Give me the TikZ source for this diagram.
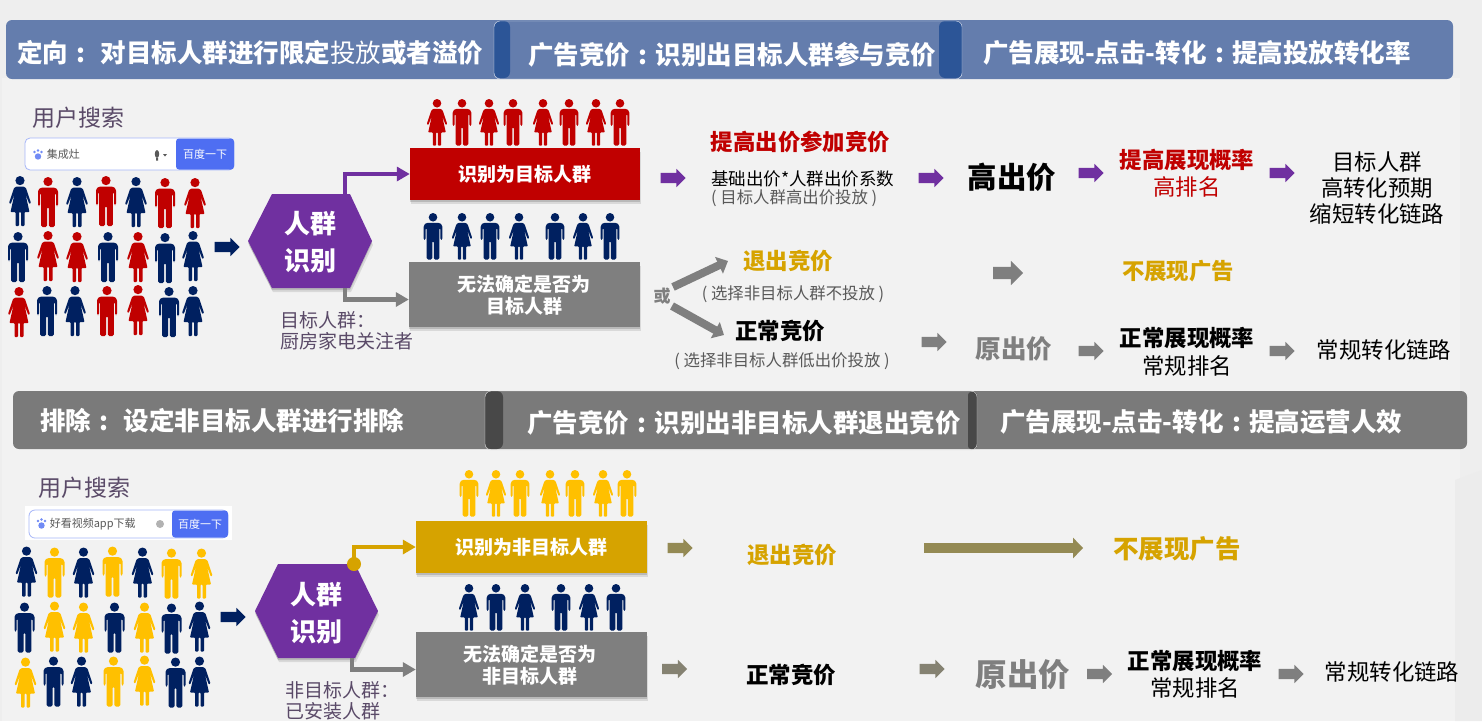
\documentclass[tikz,border=0pt]{standalone}
\usepackage{fontspec}
\setmainfont{Noto Sans CJK SC}
\usetikzlibrary{arrows.meta,positioning,shapes.arrows,shadows}
\definecolor{bandblue}{HTML}{647DAD}
\definecolor{tabblue}{HTML}{2C5597}
\definecolor{bandgray}{HTML}{7A7A7A}
\definecolor{tabgray}{HTML}{484848}
\definecolor{crowdnavy}{HTML}{002060}
\definecolor{crowdred}{HTML}{C00000}
\definecolor{crowdyel}{HTML}{FFC000}
\definecolor{boxyel}{HTML}{D6A300}
\definecolor{boxgray}{HTML}{7F7F7F}
\definecolor{hexpurple}{HTML}{7030A0}
\definecolor{olive}{HTML}{948A54}
\definecolor{plumtext}{HTML}{5A4A68}
\definecolor{softtext}{HTML}{595959}
\definecolor{baidu}{HTML}{4E6EF2}
\newcommand\headcolon{\makebox[1em]{:}}
\begin{document}
\begin{tikzpicture}[x=1pt,y=-1pt,
    bold/.style={font=\fontsize{#1}{#1}\selectfont\bfseries,inner sep=0pt},
    plain/.style={font=\fontsize{#1}{#1}\selectfont,inner sep=0pt},
    headtext/.style={bold=25.5,text=white,anchor=west},
    boxtext/.style={bold=19,text=white,align=center},
    softshadow/.style={
        drop shadow={shadow xshift=0pt,shadow yshift=-2pt,opacity=.14,fill=black},
        drop shadow={shadow xshift=1pt,shadow yshift=-4pt,opacity=.1,fill=black}},
    resultbox/.style={rectangle,minimum width=#1,softshadow,inner sep=0pt},
    blockarrow/.style={single arrow,fill=#1,minimum height=25pt,inner sep=5pt,xshift=-2pt,
        single arrow head extend=4pt,single arrow head indent=0pt},
    elbow/.style={line width=4.5pt,draw=#1,-{Triangle[width=14pt,length=13pt]}},
    branch/.style={line width=8pt,draw=boxgray,-{Triangle[width=18pt,length=10pt]}},
    man/.pic={
        \fill[pic actions] (0,4.6) circle (4.6);
        \fill[pic actions,rounded corners=1.5pt] (-10,29) -- (-10,13) -- (-7,10.5) -- (7,10.5)
            -- (10,13) -- (10,29) -- (8,29) -- (8,16) -- (6.8,16) -- (6.8,50) -- (0.8,50)
            -- (0.8,30) -- (-0.8,30) -- (-0.8,50) -- (-6.8,50) -- (-6.8,16) -- (-8,16)
            -- (-8,29) -- cycle;
    },
    woman/.pic={
        \fill[pic actions] (0,4.6) circle (4.6);
        \fill[pic actions,rounded corners=.8pt] (-3.5,10.5) -- (3.5,10.5) -- (6,12) -- (11,27)
            -- (9.3,28) -- (5.5,18) -- (9.5,36) -- (4.5,36) -- (4.5,50) -- (1,50) -- (1,36)
            -- (-1,36) -- (-1,50) -- (-4.5,50) -- (-4.5,36) -- (-9.5,36) -- (-5.5,18)
            -- (-9.3,28) -- (-11,27) -- (-6,12) -- cycle;
    }]
    \useasboundingbox (0,0) rectangle (1482,721);
    % backdrop
    \fill[black!6.5] (0,0) rectangle (1482,721);
    \fill[black!5] (2,78) rectangle (1460,721);
    \fill[black!7.5] (1455,480) -- (1482,470) -- (1482,721) -- (1455,721) -- cycle;

    % upper band
    \fill[bandblue,rounded corners=6pt] (6,20) rectangle (1453,79);
    \fill[tabblue,rounded corners=6pt] (494,21) rectangle (510,78);
    \fill[tabblue,rounded corners=6pt] (939,21) rectangle (962,78);
    \draw[white!80!bandblue,rounded corners=6pt] (494,21) rectangle (962,79);
    \node (targetHead) [headtext] at (17,53) {定向\headcolon\hspace{7pt}对目标人群进行限定{\mdseries 投放}或者溢价};
    \node (bidHead) [headtext] at (528,55) {广告竞价\headcolon 识别出目标人群参与竞价};
    \node (showHead) [headtext] at (983,53) {广告展现-点击-转化\headcolon 提高投放转化率};

    % lower band
    \fill[bandgray,rounded corners=6pt] (13,391) rectangle (1467,449);
    \fill[tabgray,rounded corners=6pt] (485,391) rectangle (503,449);
    \fill[tabgray,rounded corners=3pt] (968,392) rectangle (977,449);
    \draw[white!75!bandgray,rounded corners=6pt] (485,391) rectangle (977,450);
    \node (excludeHead) [headtext] at (40,421) {排除\headcolon\hspace{7pt}设定非目标人群进行排除};
    \node (quitHead) [headtext] at (527,423) {广告竞价\headcolon 识别出非目标人群退出竞价};
    \node (staffHead) [headtext] at (1000,422) {广告展现-点击-转化\headcolon 提高运营人效};

    % the two crowds
    \foreach \dx/\dy/\other in {0/0/crowdred,6.5/370.5/crowdyel}{
        \foreach \px/\py/\who in {20/176/woman,77/177/woman,136/177/woman,18/232/man,108/232/man,
            165/233/man,193/231/woman,47/286/man,75/286/woman,169/287/man,193/286/woman}
            \path (\px+\dx,\py+\dy) pic[fill=crowdnavy] {\who};
        \foreach \px/\py/\who in {48/177/man,106/176/man,165/178/man,195/178/woman,48/231/woman,
            77/232/woman,138/232/woman,19/287/woman,107/286/man,138/285/woman}
            \path (\px+\dx,\py+\dy) pic[fill=\other] {\who};
    }
    % small groups over the boxes
    \foreach \px/\who in {437/woman,462/man,489/woman,513/man,543/woman,569/man,596/woman,620/man}
        \path (\px,99) pic[fill=crowdred,scale=.93] {\who};
    \foreach \px/\who in {433/man,462/woman,490/man,519/woman,555/man,583/woman,610/man}
        \path (\px,213) pic[fill=crowdnavy,scale=.93] {\who};
    \foreach \px/\who in {469/man,496/woman,520/man,550/woman,575/man,603/woman,627/man}
        \path (\px,470) pic[fill=crowdyel,scale=.93] {\who};
    \foreach \px/\who in {469/woman,496/man,525/woman,561/man,589/woman,616/man}
        \path (\px,584) pic[fill=crowdnavy,scale=.93] {\who};

    % search bars
    \node (searchA) [plain=23,text=plumtext] at (78,118) {用户搜索};
    \node (barA) [draw=baidu!50,fill=white,rounded corners=5pt,line width=.8pt,inner sep=0pt,
        minimum width=209pt,minimum height=32pt] at (129.5,154) {};
    \node (goA) [fill=baidu,rounded corners=3pt,minimum width=58pt,minimum height=31pt,inner sep=0pt,
        plain=11,text=white] at (205,154) {百度一下};
    \node (queryA) [plain=11,text=softtext,right=22pt of barA.west] {集成灶};
    \fill[baidu!80] (38,156.5) circle (3.2) (34.5,152) circle (1.3) (38,150.5) circle (1.3) (41.5,152) circle (1.3);
    \fill[softtext] (157,154) ellipse (2.2 and 4) (156,158) rectangle (158,160.5) (163,154) -- (167,154) -- (165,156.5) -- cycle;

    \node (searchB) [plain=23,text=plumtext] at (84,488) {用户搜索};
    \fill[white] (25,506) rectangle (232,540);
    \node (barB) [draw=baidu!50,fill=white,rounded corners=6pt,line width=.8pt,inner sep=0pt,
        minimum width=199pt,minimum height=28pt] at (128.5,524) {};
    \node (goB) [fill=baidu,rounded corners=3pt,minimum width=56pt,minimum height=27pt,inner sep=0pt,
        plain=11,text=white] at (200,524) {百度一下};
    \node (queryB) [plain=11,text=softtext,right=21pt of barB.west] {好看视频app下载};
    \fill[baidu!80] (41.5,525.5) circle (3.2) (38,521) circle (1.3) (41.5,519.5) circle (1.3) (45,521) circle (1.3);
    \fill[black!30] (160,524) circle (4);

    % arrows into the hexagons
    \node (flowA) [blockarrow=crowdnavy] at (226.5,247) {};
    \node (flowB) [blockarrow=crowdnavy] at (232.5,617) {};

    % upper hexagon
    \fill[hexpurple,softshadow] (248,241) -- (272,194) -- (350,194) -- (372,241) -- (350,288) -- (272,288) -- cycle;
    \node (groupA) [bold=26,text=white,align=center] at (310,242.5) {人群\\[11pt]识别};
    \node (noteA) [plain=19,text=plumtext,align=left,anchor=north west] at (280,311) {目标人群：\\[2pt]厨房家电关注者};
    \coordinate (hexTopA) at (345,194);
    \coordinate (hexLowA) at (345,288);

    % lower hexagon
    \fill[hexpurple,softshadow] (255,611) -- (278,564) -- (355,564) -- (378,611) -- (355,658) -- (278,658) -- cycle;
    \node (groupB) [bold=26,text=white,align=center] at (316,613.5) {人群\\[11pt]识别};
    \node (noteB) [plain=19,text=plumtext,align=left,anchor=north west] at (285,681) {非目标人群：\\[2pt]已安装人群};
    \coordinate (hexTopB) at (354,564);
    \coordinate (hexLowB) at (352,658);
    \fill[boxyel] (hexTopB) circle (7);

    % result boxes
    \node (redBox) [resultbox=230pt,fill=crowdred,minimum height=52pt] at (525,174) {};
    \node (redText) [boxtext] at (525,174) {识别为目标人群};
    \node (grayBoxA) [resultbox=231pt,fill=boxgray,minimum height=65pt] at (524.5,294.5) {};
    \node (grayTextA) [boxtext] at (524,295) {无法确定是否为\\[3pt]目标人群};
    \node (yelBox) [resultbox=231pt,fill=boxyel,minimum height=52pt] at (531.5,547) {};
    \node (yelText) [boxtext] at (531,547) {识别为非目标人群};
    \node (grayBoxB) [resultbox=231pt,fill=boxgray,minimum height=65pt] at (531.5,664.5) {};
    \node (grayTextB) [boxtext] at (530,665) {无法确定是否为\\[3pt]非目标人群};

    \draw[elbow=hexpurple] (hexTopA) |- (redBox.west);
    \draw[elbow=boxgray] (hexLowA) |- ([yshift=-5pt]grayBoxA.west);
    \draw[elbow=boxyel] (hexTopB) |- (yelBox.west);
    \draw[elbow=boxgray] (hexLowB) |- ([yshift=-5pt]grayBoxB.west);

    % first row, red
    \node (redArrow) [blockarrow=hexpurple] at (672.5,178) {};
    \node (raise) [bold=22.4,text=crowdred] at (800.5,142) {提高出价参加竞价};
    \node (formula) [plain=17.5,anchor=west] at (711,179) {基础出价*人群出价系数};
    \node (formulaNote) [plain=16.4,text=softtext,anchor=west] at (711,198) {( 目标人群高出价投放 )};
    \node (bidArrow) [blockarrow=hexpurple] at (930.5,178) {};
    \node (highBid) [bold=29.5] at (1012,177) {高出价};
    \node (highArrow) [blockarrow=hexpurple] at (1090.5,173) {};
    \node (rankUp) [bold=22.4,text=crowdred] at (1187,160) {提高展现概率};
    \node (rankHigh) [plain=22.4,text=crowdred] at (1187,187) {高排名};
    \node (rankArrow) [blockarrow=hexpurple] at (1281.5,173) {};
    \node (goal) [plain=22.4,align=center] at (1377,188) {目标人群\\[4pt]高转化预期\\[4pt]缩短转化链路};

    % second and third row
    \node (orLabel) [bold=17,text=boxgray] at (662,296) {或};
    \node (quit) [bold=22.5,text=boxyel] at (788,261) {退出竞价};
    \node (quitNote) [plain=16.4,text=softtext] at (793,294) {( 选择非目标人群不投放 )};
    \node (keep) [bold=22.5] at (780,331) {正常竞价};
    \node (keepNote) [plain=16.4,text=softtext] at (782,361) {( 选择非目标人群低出价投放 )};
    \coordinate (quitEnd) at (728,261);
    \coordinate (keepEnd) at (724,335);
    \draw[branch] (orLabel) ++(11,-9) -- (quitEnd);
    \draw[branch] (orLabel) ++(10,10) -- (keepEnd);
    \node (noShowArrow) [blockarrow=boxgray,minimum height=30pt,inner sep=6pt,single arrow head extend=6pt] at (1007,273) {};
    \node (noShow) [bold=22.4,text=boxyel] at (1178,271) {不展现广告};
    \node (keepArrow) [blockarrow=boxgray] at (933.5,342) {};
    \node (sameBid) [bold=25.5,text=boxgray] at (1014,349) {原出价};
    \node (sameArrow) [blockarrow=boxgray] at (1090.5,351) {};
    \node (rankSame) [bold=22.4] at (1187,338) {正常展现概率};
    \node (rankPlain) [plain=22.4] at (1187,366) {常规排名};
    \node (plainArrow) [blockarrow=boxgray] at (1281.5,351) {};
    \node (plainPath) [plain=22.4] at (1384,350) {常规转化链路};

    % lower part
    \node (yelArrow) [blockarrow=olive] at (679.5,548) {};
    \node (quitB) [bold=22.5,text=boxyel] at (792,555) {退出竞价};
    \coordinate (longStart) at (924,548);
    \node (noShowB) [bold=25.5,text=boxyel] at (1177,549) {不展现广告};
    \draw[line width=10pt,draw=olive,-{Triangle[width=20pt,length=10pt]}] (longStart) -- ([xshift=-30pt]noShowB.west |- longStart);
    \node (grayArrowB) [blockarrow=olive!30!boxgray] at (674,669) {};
    \node (keepB) [bold=22.5] at (791,675) {正常竞价};
    \node (keepArrowB) [blockarrow=olive!30!boxgray] at (931.5,669) {};
    \node (sameBidB) [bold=31.5,text=boxgray] at (1023,675) {原出价};
    \node (sameArrowB) [blockarrow=boxgray] at (1099,674) {};
    \node (rankSameB) [bold=22.4] at (1195,661) {正常展现概率};
    \node (rankPlainB) [plain=22.4] at (1195,688) {常规排名};
    \node (plainArrowB) [blockarrow=boxgray] at (1290.5,674) {};
    \node (plainPathB) [plain=22.4] at (1392,672) {常规转化链路};
\end{tikzpicture}
\end{document}
